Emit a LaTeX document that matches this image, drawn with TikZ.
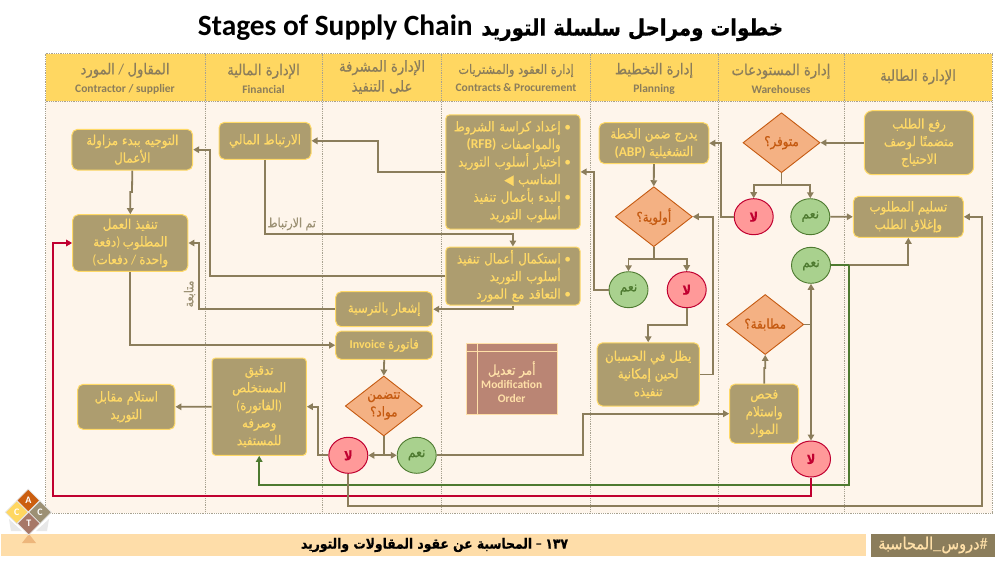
\documentclass[tikz,border=0pt]{standalone}
\usepackage{fontspec}
\usetikzlibrary{shapes.geometric,arrows.meta}
\setmainfont{Carlito}
\newfontfamily\arabicfont[Script=Arabic,FakeStretch=0.88,FakeBold=0.6]{DejaVu Sans}
\TeXXeTstate=1
\newcommand\ar[1]{{\arabicfont\beginR #1\endR}}
\newcommand\bul[1]{\ar{#1}\makebox[14pt]{\textbullet}}
\newcommand\cont[1]{\ar{#1}\makebox[14pt]{}}
\newcommand\sz[2]{\fontsize{#1}{#2}\selectfont}
\definecolor{hdr}{HTML}{FFD761}
\definecolor{body}{HTML}{FEF5EB}
\definecolor{boxf}{HTML}{AD9D6F}
\definecolor{boxt}{HTML}{FFD966}
\definecolor{ln}{HTML}{8B7D5B}
\definecolor{sep}{HTML}{A8A290}
\definecolor{redf}{HTML}{FF9999}
\definecolor{redl}{HTML}{C00030}
\definecolor{grnf}{HTML}{A9D18E}
\definecolor{grnl}{HTML}{4E7A30}
\definecolor{orgf}{HTML}{F4B183}
\definecolor{orgl}{HTML}{C55A11}
\definecolor{modf}{HTML}{BA8574}
\definecolor{modl}{HTML}{FFE0A8}
\definecolor{foot}{HTML}{FEDDA9}
\tikzset{
 hdrtext/.style={text=ln,align=center,inner sep=0pt,font=\sz{15}{20}},
 boxn/.style={draw=boxt,line width=1pt,fill=boxf,text=boxt,rounded corners=5.5pt,align=center,inner sep=0pt,font=\sz{13.5}{17.6}},
 bulletbox/.style={boxn,rounded corners=4pt,align=right,text width=123.6pt,inner xsep=5.35pt},
 dec/.style={diamond,draw=orgl,line width=0.9pt,fill=orgf,text=orgl,align=center,inner sep=0pt,shape aspect=1.28,minimum width=77pt,minimum height=60pt,font=\sz{13.5}{17.6}},
 yes/.style={ellipse,draw=grnl,line width=0.9pt,fill=grnf,text=grnl,inner sep=0pt,minimum width=39pt,minimum height=36pt,font=\sz{14}{16}},
 no/.style={ellipse,draw=redl,line width=1pt,fill=redf,text=redl,inner sep=0pt,minimum width=39pt,minimum height=36pt,font=\sz{13}{16}\bfseries},
 conn/.style={draw=ln,line width=1.8pt,-{Triangle[length=6pt,width=6.5pt]}},
 plainconn/.style={draw=ln,line width=1.8pt},
 redconn/.style={draw=redl,line width=1.9pt,-{Triangle[length=6pt,width=6.5pt]}},
 grnconn/.style={draw=grnl,line width=1.9pt,-{Triangle[length=6pt,width=6.5pt]}},
 grnplain/.style={draw=grnl,line width=1.9pt},
 seam/.style={draw=sep,densely dotted,line width=0.8pt},
 logod/.style={diamond,inner sep=0pt,minimum width=23pt,minimum height=23pt,draw=white!80!gray,line width=0.7pt,text=white,font=\sz{10}{12}\bfseries},
 note/.style={text=ln!85!white,inner sep=0pt,font=\sz{12.5}{12}},
}
\begin{document}
\begin{tikzpicture}[x=1pt,y=-1pt]
\useasboundingbox (0,0) rectangle (1000,565);
\fill[white] (0,0) rectangle (1000,565);
% title
\node[inner sep=0pt,font=\sz{29.4}{30}\bfseries] (title) at (490.5,28) {Stages of Supply Chain \hspace{2pt}{\sz{22.5}{30}\ar{خطوات ومراحل سلسلة التوريد}}};
% lanes
\fill[body] (45.5,101) rectangle (992,513);
\fill[hdr] (45.5,53.5) rectangle (992,101);
\draw[seam] (45.5,53.5) rectangle (992,513);
\draw[seam] (45.5,101) -- (992,101);
\foreach \x in {205,322.7,441.7,590.7,718,844.3} \draw[seam] (\x,53.5) -- (\x,513);
% headers
\node[hdrtext] (h1) at (125,78.5) {\ar{المورد} / \ar{المقاول}\\[-2pt]{\sz{11.5}{14}\bfseries Contractor / supplier}};
\node[hdrtext] (h2) at (263.5,78.5) {\ar{الإدارة المالية}\\[-2pt]{\sz{11.5}{14}\bfseries Financial}};
\node[hdrtext] (h3) at (382,77) {\ar{الإدارة المشرفة}\\\ar{على التنفيذ}};
\node[hdrtext] (h4) at (516,78) {{\sz{13}{18}\ar{إدارة العقود والمشتريات}}\\[-2pt]{\sz{11.5}{14}\bfseries Contracts \& Procurement}};
\node[hdrtext] (h5) at (654,78.5) {\ar{إدارة التخطيط}\\[-2pt]{\sz{11.5}{14}\bfseries Planning}};
\node[hdrtext] (h6) at (781,78.5) {\ar{إدارة المستودعات}\\[-2pt]{\sz{11.5}{14}\bfseries Warehouses}};
\node[hdrtext] (h7) at (918,77) {\ar{الإدارة الطالبة}};
% boxes
\node[boxn,minimum width=120.7pt,minimum height=40.7pt] (a1) at (132.3,149.7) {\ar{التوجيه ببدء مزاولة}\\\ar{الأعمال}};
\node[boxn,minimum width=115.3pt,minimum height=56.6pt] (a2) at (130.3,243) {\ar{تنفيذ العمل}\\\ar{دفعة})\,\ar{المطلوب}\\(\ar{دفعات} / \ar{واحدة}};
\node[boxn,minimum width=97.3pt,minimum height=45pt] (a3) at (126.3,406.8) {\ar{استلام مقابل}\\\ar{التوريد}};
\node[boxn,minimum width=92pt,minimum height=37pt] (f1) at (265,140.8) {\ar{الارتباط المالي}};
\node[boxn,rounded corners=3.5pt,minimum width=94.3pt,minimum height=97.3pt] (f2) at (259.2,406.7) {\ar{تدقيق}\\\ar{المستخلص}\\(\ar{الفاتورة})\\\ar{وصرفه}\\\ar{للمستفيد}};
\node[boxn,minimum width=97pt,minimum height=35pt] (s1) at (384.2,309.2) {\ar{إشعار بالترسية}};
\node[boxn,minimum width=97pt,minimum height=28.3pt] (s2) at (384.2,345.2) {{\sz{12}{14}\bfseries Invoice} \ar{فاتورة}};
\node[dec] (d3) at (383.8,406) {\ar{تتضمن}\\\ar{مواد؟}};
\node[no] (no3) at (348.3,455.3) {\ar{لا}};
\node[yes] (yes3) at (416.7,455.3) {\ar{نعم}};
\node[bulletbox,minimum height=114.3pt] (c1) at (512.9,171.9) {\bul{إعداد كراسة الشروط}\\{\bfseries (RFB)} \cont{والمواصفات}\\\bul{اختيار أسلوب التوريد}\\{\arabicfont ◀} \cont{المناسب}\\\bul{البدء بأعمال تنفيذ}\\\cont{أسلوب التوريد}};
\node[bulletbox,minimum height=58pt] (c2) at (512.9,276) {\bul{استكمال أعمال تنفيذ}\\\cont{أسلوب التوريد}\\\bul{التعاقد مع المورد}};
\node[draw=modl,line width=0.9pt,fill=modf,text=modl,minimum width=91.3pt,minimum height=71pt,inner sep=0pt,align=center,font=\sz{11.5}{14}\bfseries] (mod) at (511.7,378.8) {\\[6pt]{\sz{13.5}{14}\mdseries\ar{أمر تعديل}}\\Modification\\Order};
\draw[modl,line width=1.2pt] (477.3,343.3) -- (477.3,414.3) (466,351.7) -- (557.3,351.7);
\node[boxn,minimum width=109.7pt,minimum height=41pt] (p1) at (653.9,143.2) {\ar{يدرج ضمن الخطة}\\{\bfseries (ABP)} \ar{التشغيلية}};
\node[dec] (d1) at (653.8,216.7) {\ar{أولوية؟}};
\node[yes] (yes1) at (628.5,289.7) {\ar{نعم}};
\node[no] (no1) at (686.7,289.7) {\ar{لا}};
\node[boxn,minimum width=102.3pt,minimum height=63.3pt] (p2) at (648.2,374.4) {\ar{يظل في الحسبان}\\\ar{لحين إمكانية}\\\ar{تنفيذه}};
\node[dec] (d2) at (781.5,142.7) {\ar{متوفر؟}};
\node[no] (no2) at (753.7,216.7) {\ar{لا}};
\node[yes] (yes2) at (810.3,216.7) {\ar{نعم}};
\node[yes] (yes4) at (811,265.3) {\ar{نعم}};
\node[dec] (d4) at (765.2,324.5) {\ar{مطابقة؟}};
\node[boxn,minimum width=69pt,minimum height=59.3pt] (w1) at (764.2,413.7) {\ar{فحص}\\\ar{واستلام}\\\ar{المواد}};
\node[no] (no4) at (811,459) {\ar{لا}};
\node[boxn,rounded corners=8pt,minimum width=109.4pt,minimum height=64pt] (r1) at (919,142.7) {\ar{رفع الطلب}\\\ar{متضمنًا لوصف}\\\ar{الاحتياج}};
\node[boxn,minimum width=110pt,minimum height=41pt] (r2) at (908.3,216.8) {\ar{تسليم المطلوب}\\\ar{وإغلاق الطلب}};
% labels
\node[note] (lb1) at (291.7,224) {\ar{تم الارتباط}};
\node[note,rotate=90] (lb2) at (189.5,294) {\ar{متابعة}};
% connectors
\draw[conn] (r1.west) -- (d2.east);
\draw[plainconn] (d2.south) -- (781.5,185);
\draw[conn] (781.5,185) -| (no2.north);
\draw[conn] (781.5,185) -| (yes2.north);
\draw[conn] (yes2.east) -- (r2.west);
\draw[conn] (no2.west) -- (721.3,216.7) |- (p1.east);
\draw[conn] (p1.south) -- (d1.north);
\draw[plainconn] (d1.south) -- (653.8,258.7);
\draw[conn] (653.8,258.7) -| (yes1.north);
\draw[conn] (653.8,258.7) -| (no1.north);
\draw[conn] (yes1.west) -- (593.7,289.7) |- (c1.east);
\draw[conn] (no1.south) -- (686.7,325) -| (p2.north);
\draw[conn] (p2.east) -- (713.3,374.4) |- (d1.east);
\draw[conn] (c1.west) -- (378.3,171.9) |- (f1.east);
\draw[conn] (f1.south) -- (265,233.7) -| (c2.north);
\draw[conn] (c2.west) -- (209.7,276) |- (a1.east);
\draw[conn] (c2.south) |- (s1.east);
\draw[conn] (s1.west) -- (199,309.2) |- (a2.east);
\draw[conn] (a1.south) -- (132,192) -- (130.3,192) -- (a2.north);
\draw[conn] (a2.south) |- (s2.west);
\draw[conn] (s2.south) -- (d3.north);
\draw[plainconn] (d3.south) -- (383.8,455.3);
\draw[conn] (383.8,455.3) -- (no3.east);
\draw[conn] (383.8,455.3) -- (yes3.west);
\draw[conn] (no3.west) -- (317.7,455.3) |- (f2.east);
\draw[conn] (f2.west) -- (a3.east);
\draw[conn] (yes3.east) -- (582.7,455.3) |- (w1.west);
\draw[conn] (w1.north) -- (764.3,368) -- (765.2,368) -- (d4.south);
\draw[plainconn] (d4.east) -- (811,324.5);
\draw[conn] (811,324.5) -- (yes4.south);
\draw[conn] (811,324.5) -- (no4.north);
\draw[conn] (849.3,265.3) -| (r2.south);
\draw[grnplain] (yes4.east) -- (849.3,265.3);
\draw[grnconn] (849.3,265.3) -- (849.3,484.7) -| (f2.south);
\draw[redconn] (no4.south) -- (811,495.7) -- (53.3,495.7) |- (a2.west);
\draw[conn] (no3.south) -- (348.3,505.7) -- (982.3,505.7) |- (r2.east);
% footer
\fill[foot] (1,534) rectangle (866,556);
\fill[ln] (871,533.7) rectangle (995,556.5);
\node[inner sep=0pt,font=\sz{14}{16}\bfseries] (ftext) at (434.5,545) {\ar{المحاسبة عن عقود المقاولات والتوريد} -- {\arabicfont ١٣٧}};
\node[inner sep=0pt,text=modl,font=\sz{16.5}{16}] (ftag) at (933,545) {\ar{المحاسبة}\_\ar{دروس}\#};
% logo
\fill[gray!18] (9,519) -- (22,531) -- (11,531) -- cycle;
\fill[gray!18] (49,519) -- (36,531) -- (47,531) -- cycle;
\fill[orgl!30!foot] (29,534) -- (22,543) -- (36,543) -- cycle;
\node[logod,fill=orgl!90!orange] (la) at (28.3,500.5) {A};
\node[logod,fill=hdr] (lc1) at (16.7,512.3) {C};
\node[logod,fill=ln!85!white] (lc2) at (40,512.3) {C};
\node[logod,fill=modf!90!black] (lt) at (28.8,523.5) {T};
\end{tikzpicture}
\end{document}
